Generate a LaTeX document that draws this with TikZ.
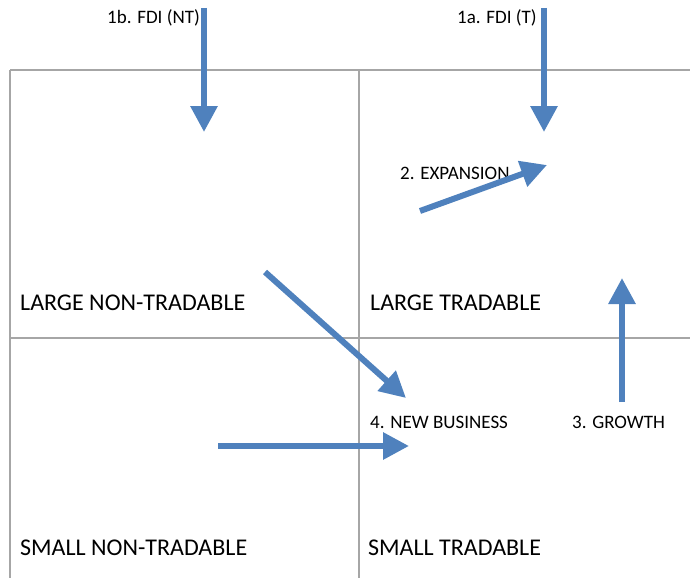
\documentclass[tikz,border=0pt]{standalone}
\usepackage{fontspec}
\setmainfont{Carlito}
\usetikzlibrary{arrows.meta}
\definecolor{arrowblue}{HTML}{4F81BD}
\definecolor{gridgray}{HTML}{A6A6A6}
\begin{document}
\begin{tikzpicture}[x=1pt,y=-1pt,
  cell/.style={anchor=base west, inner sep=0pt, font=\fontsize{24}{28}\selectfont},
  tag/.style={anchor=base west, inner sep=0pt, font=\fontsize{19}{22}\selectfont},
  flow/.style={arrowblue, line width=6pt, -{Triangle[width=26pt,length=26pt]}},
  gridline/.style={gridgray, line width=1.3pt}]
\useasboundingbox (0,0) rectangle (690,578);
\coordinate (gtl) at (10,70);
\coordinate (gtr) at (690,70);
\coordinate (gbl) at (10,578);
\coordinate (gtm) at (359,70);
\coordinate (gbm) at (359,578);
\coordinate (gml) at (10,338);
\coordinate (gmr) at (690,338);
\draw[gridline] (gtl) -- (gtr);
\draw[gridline] (gtl) -- (gbl);
\draw[gridline] (gtm) -- (gbm);
\draw[gridline] (gml) -- (gmr);
\node[cell] (lnt) at (20,310){LARGE NON-TRADABLE};
\node[cell] (lt) at (370,310){LARGE TRADABLE};
\node[cell] (snt) at (20,555){SMALL NON-TRADABLE};
\node[cell] (st) at (368,555){SMALL TRADABLE};
\node[tag] (fdint) at (107,24){1b. FDI (NT)};
\node[tag] (fdit) at (457,24){1a. FDI (T)};
\node[tag] (exp) at (400,179){2. EXPANSION};
\node[tag] (newb) at (370,428){4. NEW BUSINESS};
\node[tag] (grow) at (572,428){3. GROWTH};
\coordinate (a1bs) at (204,8);
\coordinate (a1be) at (204,132);
\coordinate (a1as) at (544,8);
\coordinate (a1ae) at (544,132);
\coordinate (a2s) at (420,211);
\coordinate (a2e) at (547,165);
\coordinate (a3s) at (622,402);
\coordinate (a3e) at (622,278);
\coordinate (a4as) at (265,272);
\coordinate (a4ae) at (406,398);
\coordinate (a4bs) at (218,446);
\coordinate (a4be) at (409,446);
\draw[flow] (a1bs) -- (a1be);
\draw[flow] (a1as) -- (a1ae);
\draw[flow] (a2s) -- (a2e);
\draw[flow] (a3s) -- (a3e);
\draw[flow] (a4as) -- (a4ae);
\draw[flow] (a4bs) -- (a4be);
\end{tikzpicture}
\end{document}
